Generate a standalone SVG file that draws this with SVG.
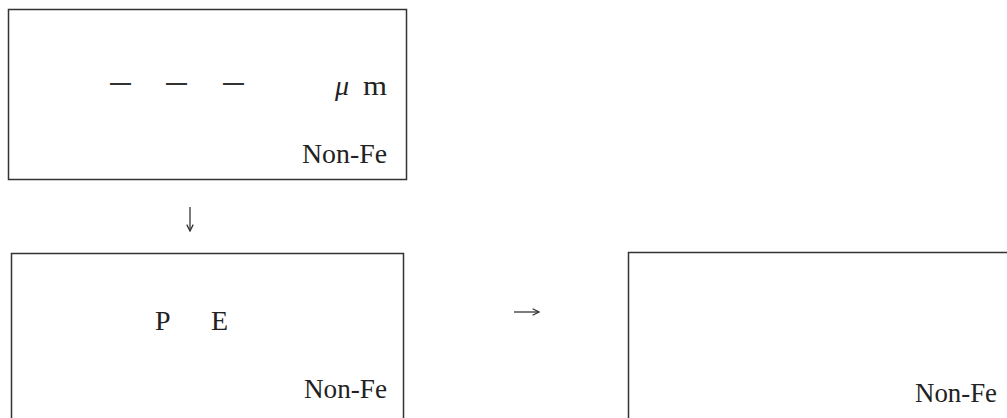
<svg xmlns="http://www.w3.org/2000/svg" width="1007" height="418" viewBox="0 0 1007 418">
<defs>
<marker id="ah" viewBox="0 0 10 10" refX="9" refY="5" markerWidth="8" markerHeight="8" markerUnits="userSpaceOnUse" orient="auto">
<path d="M1,1 L9,5 L1,9" fill="none" stroke="#333" stroke-width="1.6"/>
</marker>
</defs>
<style>
.box{fill:#fff;stroke:#333;stroke-width:1.5}
.t{font-family:"Liberation Serif","Noto Sans CJK JP",serif;font-size:28px;fill:#222}
.dash{font-family:"Noto Sans CJK JP","Liberation Sans",sans-serif;font-size:28px;fill:#333}
.c{stroke:#444;stroke-width:1.4;fill:none}
</style>
<rect width="1007" height="418" fill="#fff"/>
<g id="node-top">
<rect class="box" x="8.5" y="9.5" width="398" height="170"/>
<text class="dash" x="106" y="95" textLength="29" lengthAdjust="spacingAndGlyphs">－</text>
<text class="dash" x="162" y="95" textLength="29" lengthAdjust="spacingAndGlyphs">－</text>
<text class="dash" x="219" y="95" textLength="29" lengthAdjust="spacingAndGlyphs">－</text>
<text class="t" x="335" y="95" font-style="italic">μ</text>
<text class="t" x="363" y="95" textLength="24" lengthAdjust="spacingAndGlyphs">m</text>
<text class="t" x="302" y="163" textLength="85" lengthAdjust="spacingAndGlyphs">Non-Fe</text>
</g>
<g id="node-pe">
<rect class="box" x="11.5" y="253.5" width="392" height="180"/>
<text class="t" x="155" y="330">P</text>
<text class="t" x="211" y="330">E</text>
<text class="t" x="304" y="398" textLength="83" lengthAdjust="spacingAndGlyphs">Non-Fe</text>
</g>
<g id="node-right">
<rect class="box" x="628.5" y="252.5" width="420" height="180"/>
<text class="t" x="915" y="402" textLength="82" lengthAdjust="spacingAndGlyphs">Non-Fe</text>
</g>
<g id="connectors">
<line class="c" x1="190" y1="207" x2="190" y2="231" marker-end="url(#ah)"/>
<line class="c" x1="514" y1="312" x2="539" y2="312" marker-end="url(#ah)"/>
</g>
</svg>
